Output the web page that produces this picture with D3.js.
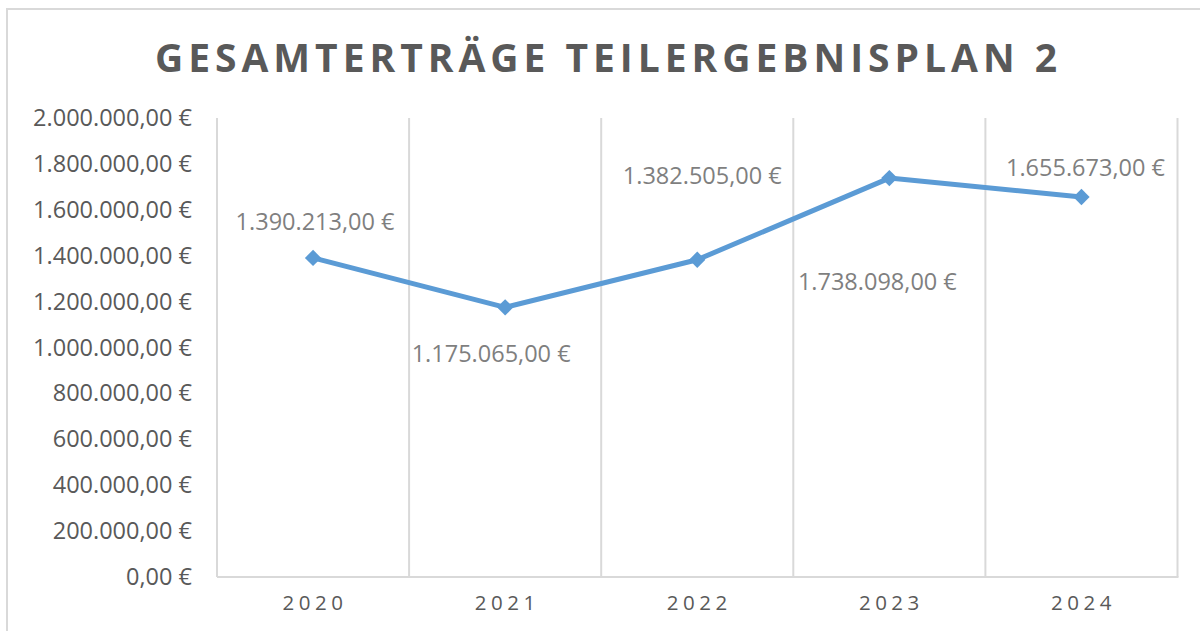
<!DOCTYPE html>
<html>
<head>
<meta charset="utf-8">
<script src="https://cdn.jsdelivr.net/npm/d3@7"></script>
<style>
  body { margin: 0; background: #fff; }
  svg { display: block; font-family: "Open Sans", sans-serif; }
</style>
</head>
<body>
<div id="chart"></div>
<script>
const years = ["2020", "2021", "2022", "2023", "2024"];
const values = [1390213, 1175065, 1382505, 1738098, 1655673];
const yTicks = [0, 200000, 400000, 600000, 800000, 1000000, 1200000, 1400000, 1600000, 1800000, 2000000];
// label offsets from each point (Excel put them by hand)
const labelOffsets = [[2, -36], [-14, 46], [5, -84], [-12, 104], [4, -29]];

const width = 1200;
const height = 631;
const margin = { top: 118, right: 22, bottom: 54, left: 217 };
const grid = "#d9d9d9";

const fmt = (v) =>
  d3.format(",.2f")(v).replace(/,/g, "X").replace(".", ",").replace(/X/g, ".") + " €";

const svg = d3
  .select("#chart")
  .append("svg")
  .attr("width", width)
  .attr("height", height);

// chart frame
svg
  .append("path")
  .attr("d", `M7,${height + 5}V9H${width + 5}`)
  .attr("fill", "none")
  .attr("stroke", grid)
  .attr("stroke-width", 2);

svg
  .append("text")
  .attr("x", 606)
  .attr("y", 72)
  .attr("text-anchor", "middle")
  .attr("font-size", 39)
  .attr("font-weight", "bold")
  .attr("fill", "#595959")
  .attr("textLength", 902)
  .attr("lengthAdjust", "spacing")
  .text("GESAMTERTRÄGE TEILERGEBNISPLAN 2");

const x = d3
  .scaleBand()
  .domain(years)
  .range([margin.left, width - margin.right - 0.5]);

const y = d3
  .scaleLinear()
  .domain([0, 2000000])
  .range([height - margin.bottom, margin.top]);

// vertical category lines
const bounds = [margin.left].concat(years.map((d) => x(d) + x.bandwidth()));
svg
  .append("g")
  .selectAll("line")
  .data(bounds)
  .join("line")
  .attr("x1", (d) => d)
  .attr("x2", (d) => d)
  .attr("y1", margin.top)
  .attr("y2", y(0))
  .attr("stroke", grid)
  .attr("stroke-width", 2);

svg
  .append("line")
  .attr("x1", margin.left)
  .attr("x2", bounds[bounds.length - 1] + 1)
  .attr("y1", y(0))
  .attr("y2", y(0))
  .attr("stroke", grid)
  .attr("stroke-width", 2);

// Y axis
const yAxis = svg
  .append("g")
  .attr("transform", `translate(${margin.left}, 0)`)
  .call(d3.axisLeft(y).tickValues(yTicks).tickFormat(fmt).tickSize(0).tickPadding(25));
yAxis.select(".domain").remove();
yAxis
  .selectAll("text")
  .attr("font-family", "Open Sans, sans-serif")
  .attr("font-size", 23.5)
  .attr("fill", "#595959");

// X axis
const xAxis = svg
  .append("g")
  .attr("transform", `translate(0, ${y(0)})`)
  .call(d3.axisBottom(x).tickSize(0).tickPadding(18));
xAxis.select(".domain").remove();
xAxis
  .selectAll("text")
  .attr("font-family", "Open Sans, sans-serif")
  .attr("font-size", 20.5)
  .attr("letter-spacing", 4.5)
  .attr("dx", 2)
  .attr("fill", "#595959");

const cx = (d, i) => x(years[i]) + x.bandwidth() / 2;

svg
  .append("path")
  .datum(values)
  .attr("fill", "none")
  .attr("stroke", "#5b9bd5")
  .attr("stroke-width", 5)
  .attr("stroke-linejoin", "round")
  .attr("d", d3.line().x(cx).y((d) => y(d)));

svg
  .append("g")
  .selectAll("path")
  .data(values)
  .join("path")
  .attr("d", d3.symbol(d3.symbolDiamond2, 170))
  .attr("transform", (d, i) => `translate(${cx(d, i)}, ${y(d)})`)
  .attr("fill", "#5b9bd5");

svg
  .append("g")
  .selectAll("text")
  .data(values)
  .join("text")
  .attr("x", (d, i) => cx(d, i) + labelOffsets[i][0])
  .attr("y", (d, i) => y(d) + labelOffsets[i][1])
  .attr("dy", "0.35em")
  .attr("text-anchor", "middle")
  .attr("font-size", 23.5)
  .attr("fill", "#7f7f7f")
  .text((d) => fmt(d));
</script>
</body>
</html>
